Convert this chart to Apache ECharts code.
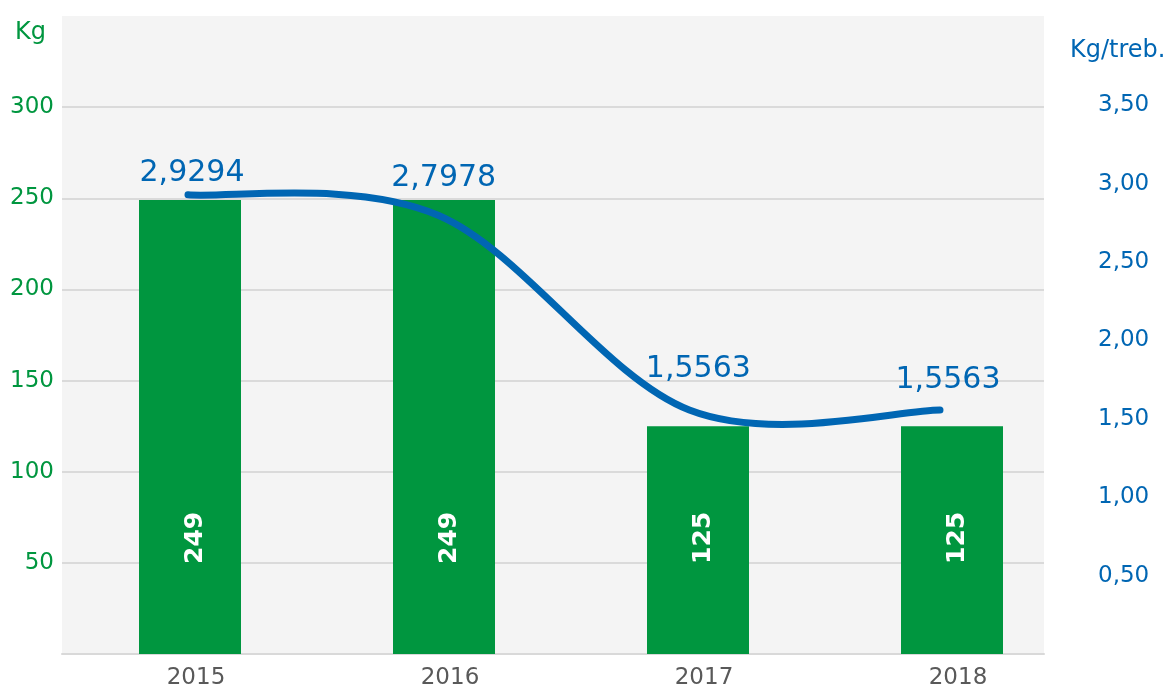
<!DOCTYPE html>
<html>
<head>
<meta charset="utf-8">
<script src="https://cdn.jsdelivr.net/npm/echarts@6/dist/echarts.min.js"></script>
<style>
  html, body { margin: 0; padding: 0; background: #ffffff; }
  #chart { width: 1170px; height: 686px; }
</style>
</head>
<body>
<div id="chart"></div>
<script>
// ---- data ----
const categories = ['2015', '2016', '2017', '2018'];
const kgValues = [249, 249, 125, 125];
const kgPerResident = [2.9294, 2.7978, 1.5563, 1.5563];
const leftTicks = [50, 100, 150, 200, 250, 300];
const rightTicks = [0.5, 1.0, 1.5, 2.0, 2.5, 3.0, 3.5];
const leftAxisName = 'Kg';
const rightAxisName = 'Kg/treb.';

// ---- styling ----
const FONT = '"DejaVu Sans", sans-serif';
const GREEN = '#00963f';
const BLUE = '#0066b3';
const lineLabelOffsets = [[4, -6], [5, -22], [9, -25], [8, -14]];

const fmtComma = (v, d) => v.toFixed(d).replace('.', ',');

// Smooth curve through the points (Catmull-Rom style, as spreadsheet "smoothed line")
function renderCurve(params, api) {
  if (params.dataIndex !== 0) return null;
  const pts = kgPerResident.map((v, i) => api.coord([i, v]));
  const n = pts.length;
  let d = 'M' + pts[0][0] + ' ' + pts[0][1];
  for (let i = 0; i < n - 1; i++) {
    const p0 = pts[Math.max(i - 1, 0)];
    const p1 = pts[i];
    const p2 = pts[i + 1];
    const p3 = pts[Math.min(i + 2, n - 1)];
    const c1 = [p1[0] + (p2[0] - p0[0]) / 6, p1[1] + (p2[1] - p0[1]) / 6];
    const c2 = [p2[0] - (p3[0] - p1[0]) / 6, p2[1] - (p3[1] - p1[1]) / 6];
    d += ' C' + c1[0] + ' ' + c1[1] + ' ' + c2[0] + ' ' + c2[1] + ' ' + p2[0] + ' ' + p2[1];
  }
  return {
    type: 'path',
    shape: { pathData: d },
    style: { fill: null, stroke: BLUE, lineWidth: 7, lineCap: 'round', lineJoin: 'round' }
  };
}

const chart = echarts.init(document.getElementById('chart'), null, { renderer: 'canvas' });

const splitColors = [];
for (let v = 0; v <= 350; v += 50) splitColors.push(v === 350 ? 'rgba(0,0,0,0)' : '#dadada');

const gridBase = { top: 16, bottom: 32, containLabel: false, outerBoundsMode: 'none' };

const option = {
  animation: false,
  grid: [
    Object.assign({ left: 62, right: 126, show: true, backgroundColor: '#f4f4f4', borderWidth: 0 }, gridBase),
    Object.assign({ left: 63, right: 91 }, gridBase),
    Object.assign({ left: 188, right: 230 }, gridBase)
  ],
  xAxis: [
    { gridIndex: 0, type: 'category', data: categories, axisLabel: { show: false }, axisTick: { show: false },
      axisLine: { show: true, lineStyle: { color: '#d9d9d9', width: 2 } } },
    { gridIndex: 1, type: 'category', data: categories, axisTick: { show: false }, axisLine: { show: false },
      axisLabel: { color: '#595959', fontFamily: FONT, fontSize: 23, margin: 13, padding: [0, 0, 0, 12] } },
    { gridIndex: 2, type: 'category', data: categories, boundaryGap: false, show: false }
  ],
  yAxis: [
    { gridIndex: 0, type: 'value', min: 0, max: 350, interval: 50,
      axisLine: { show: false }, axisTick: { show: false },
      splitLine: { show: true, lineStyle: { color: splitColors, width: 2 } },
      axisLabel: { color: GREEN, fontFamily: FONT, fontSize: 23, margin: 8,
        formatter: v => leftTicks.includes(v) ? String(v) : '' } },
    { gridIndex: 1, type: 'value', min: 0, max: 350, show: false },
    { gridIndex: 2, type: 'value', min: 0, max: 4.07, interval: 0.5, position: 'right', offset: 150,
      axisLine: { show: false }, axisTick: { show: false }, splitLine: { show: false },
      axisLabel: { color: BLUE, fontFamily: FONT, fontSize: 23, margin: 8,
        formatter: v => rightTicks.some(t => Math.abs(t - v) < 1e-6) ? fmtComma(v, 2) : '' } }
  ],
  graphic: [
    { type: 'text', left: 15, top: 21, style: { text: leftAxisName, fill: GREEN, font: '24px ' + FONT } },
    { type: 'text', left: 1070, top: 39, style: { text: rightAxisName, fill: BLUE, font: '24px ' + FONT } }
  ],
  series: [
    {
      type: 'bar', xAxisIndex: 1, yAxisIndex: 1, data: kgValues, barWidth: 102,
      itemStyle: { color: GREEN },
      label: {
        show: true, position: 'insideBottom', distance: 90, rotate: 90,
        align: 'left', verticalAlign: 'middle', offset: [0, 5],
        color: '#ffffff', fontFamily: FONT, fontWeight: 'bold', fontSize: 25
      },
      emphasis: { disabled: true },
      z: 2
    },
    {
      type: 'custom', xAxisIndex: 2, yAxisIndex: 2,
      data: kgPerResident.map((v, i) => [i, v]),
      renderItem: renderCurve,
      silent: true,
      z: 3
    },
    {
      type: 'line', xAxisIndex: 2, yAxisIndex: 2, symbol: 'circle', symbolSize: 1, showSymbol: true,
      data: kgPerResident.map((v, i) => ({
        value: v,
        label: { offset: lineLabelOffsets[i] }
      })),
      lineStyle: { opacity: 0, width: 0 },
      itemStyle: { color: 'rgba(0,0,0,0)' },
      label: {
        show: true, position: 'top', distance: 0,
        color: BLUE, fontFamily: FONT, fontSize: 30,
        formatter: p => fmtComma(p.value, 4)
      },
      emphasis: { disabled: true },
      silent: true,
      z: 4
    }
  ]
};

chart.setOption(option);
</script>
</body>
</html>
